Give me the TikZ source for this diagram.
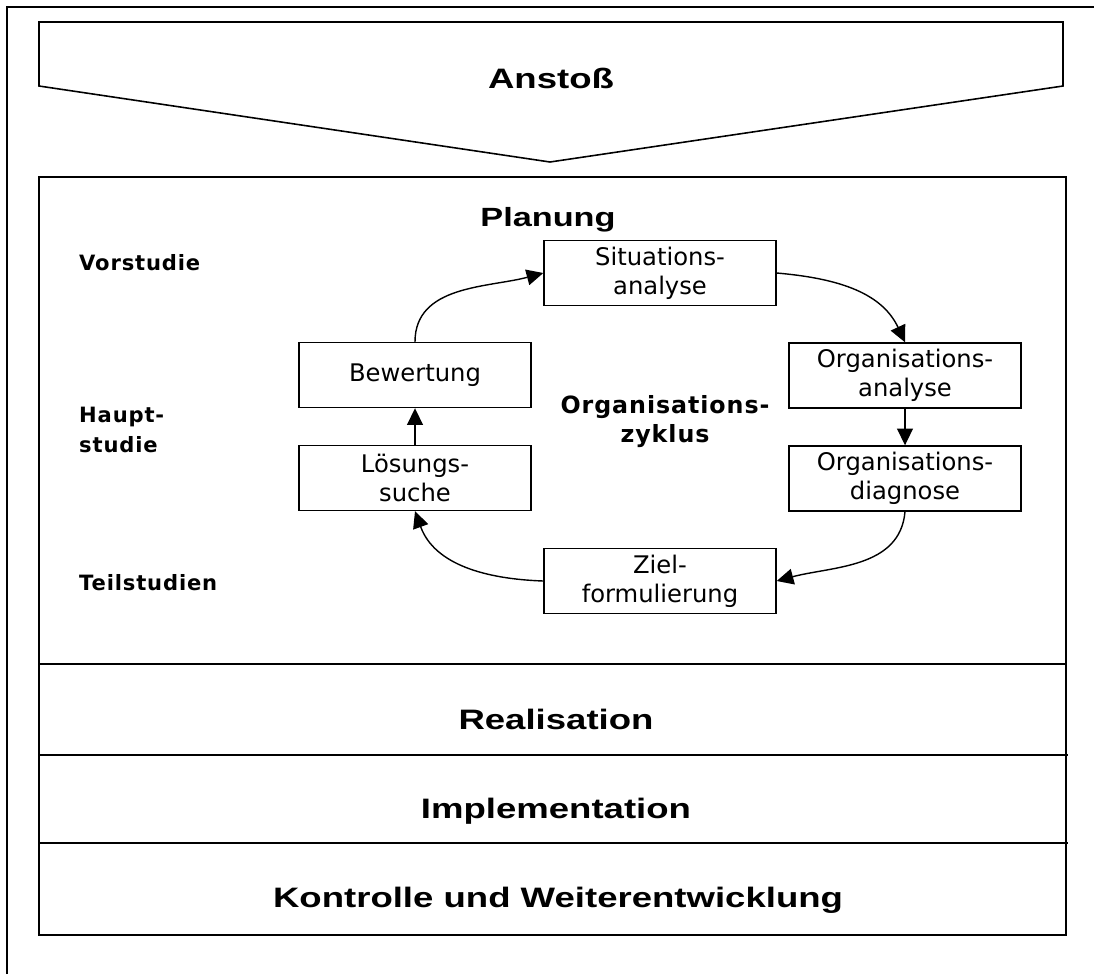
\documentclass[tikz,border=0pt]{standalone}
\usepackage{fontspec}
\setmainfont{Liberation Sans}
\newfontfamily\widefont[FakeStretch=1.3]{Liberation Sans}
\newfontfamily\boxfont{DejaVu Sans}
\newfontfamily\studyfont[LetterSpace=4]{DejaVu Sans Bold}
\usetikzlibrary{arrows.meta}

\begin{document}
\begin{tikzpicture}[
    x=0.02cm, y=-0.02cm,
    >={Triangle[length=9.5pt,width=9pt]},
    stepbox/.style={
        rectangle, draw, line width=0.8pt,
        minimum width=4.64cm, minimum height=1.3cm, inner sep=0pt,
        align=center, font=\boxfont\fontsize{13.8}{16.5}\selectfont
    },
    phase/.style={anchor=base, font=\widefont\bfseries\fontsize{16}{18}\selectfont},
    study/.style={anchor=west, align=left, font=\studyfont\fontsize{12}{17}\selectfont},
    arr/.style={->, line width=0.8pt}
]
    \useasboundingbox (0,0) rectangle (1094,974);

    % frame and outline
    \draw[line width=1.3pt] (7,974) -- (7,7) -- (1094,7);
    \draw[line width=0.9pt] (39,22) -- (1063,22) -- (1063,86) -- (550,162) -- (39,86) -- cycle;
    \draw[line width=0.9pt] (39,177) rectangle (1066,935);
    \draw[line width=0.9pt] (39,664) -- (1066,664);
    \draw[line width=0.9pt] (39,755) -- (1068,755);
    \draw[line width=0.9pt] (39,843) -- (1068,843);

    % phases
    \node[phase] (anstoss) at (551,88) {Anstoß};
    \node[phase, font=\widefont\bfseries\fontsize{15}{18}\selectfont] (planung) at (548,226) {Planung};
    \node[phase] (real) at (556,729) {Realisation};
    \node[phase] (impl) at (556,818) {Implementation};
    \node[phase] (kontr) at (558,907) {Kontrolle und Weiterentwicklung};

    % studies
    \node[study] (vor) at (73,263) {Vorstudie};
    \node[study] (haupt) at (73,430) {Haupt-\\studie};
    \node[study] (teil) at (73,583) {Teilstudien};

    % cycle
    \node[align=center, font=\studyfont\fontsize{13.5}{16.5}\selectfont] (zyklus) at (665,422) {Organisations-\\zyklus};

    \node[stepbox] (sit) at (660,273) {Situations-\\analyse};
    \node[stepbox] (oana) at (905,375.5) {Organisations-\\analyse};
    \node[stepbox] (odia) at (905,478.5) {Organisations-\\diagnose};
    \node[stepbox] (ziel) at (660,581) {Ziel-\\formulierung};
    \node[stepbox] (loes) at (415,478) {Lösungs-\\suche};
    \node[stepbox] (bew) at (415,375) {Bewertung};

    \draw[arr] (bew.north) to[out=90,in=195] (sit.west);
    \draw[arr] (sit.east) to[out=-5,in=115] (oana.north);
    \draw[arr] (oana) -- (odia);
    \draw[arr] (odia.south) to[out=-95,in=15] (ziel.east);
    \draw[arr] (ziel.west) to[out=178,in=-70] (loes.south);
    \draw[arr] (loes) -- (bew);
\end{tikzpicture}
\end{document}
